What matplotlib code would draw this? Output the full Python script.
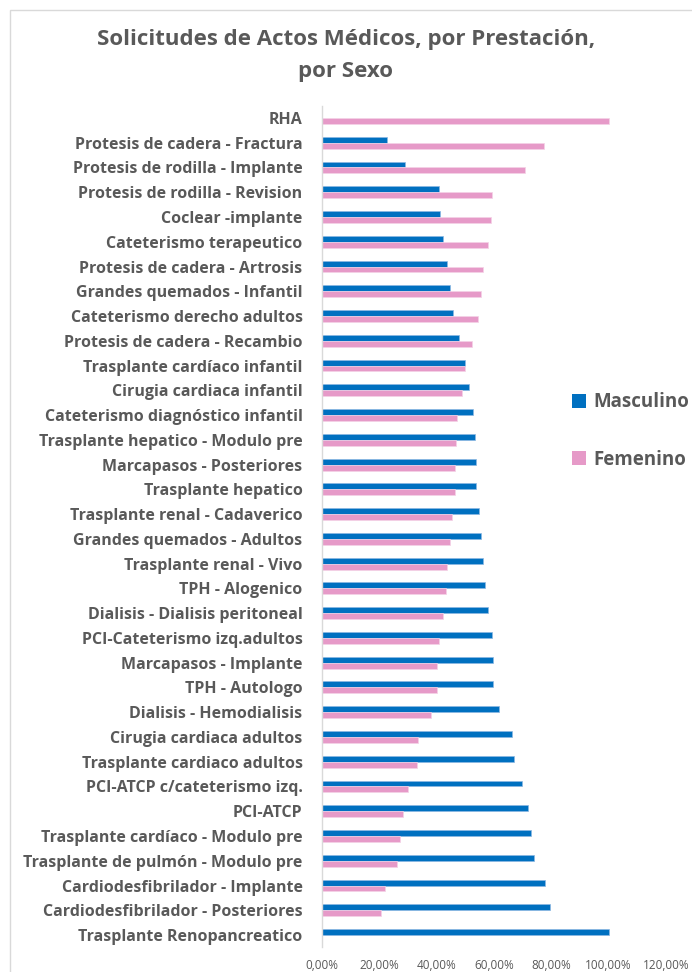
import matplotlib.pyplot as plt
from matplotlib.patches import Patch, Rectangle
from matplotlib.ticker import FuncFormatter

prestaciones = [
    'RHA',
    'Protesis de cadera - Fractura',
    'Protesis de rodilla - Implante',
    'Protesis de rodilla - Revision',
    'Coclear -implante',
    'Cateterismo terapeutico',
    'Protesis de cadera - Artrosis',
    'Grandes quemados - Infantil',
    'Cateterismo derecho adultos',
    'Protesis de cadera - Recambio',
    'Trasplante cardíaco infantil',
    'Cirugia cardiaca infantil',
    'Cateterismo diagnóstico infantil',
    'Trasplante hepatico - Modulo pre',
    'Marcapasos - Posteriores',
    'Trasplante hepatico',
    'Trasplante renal - Cadaverico',
    'Grandes quemados - Adultos',
    'Trasplante renal - Vivo',
    'TPH - Alogenico',
    'Dialisis - Dialisis peritoneal',
    'PCI-Cateterismo izq.adultos',
    'Marcapasos - Implante',
    'TPH - Autologo',
    'Dialisis - Hemodialisis',
    'Cirugia cardiaca adultos',
    'Trasplante cardiaco adultos',
    'PCI-ATCP c/cateterismo izq.',
    'PCI-ATCP',
    'Trasplante cardíaco - Modulo pre',
    'Trasplante de pulmón - Modulo pre',
    'Cardiodesfibrilador - Implante',
    'Cardiodesfibrilador - Posteriores',
    'Trasplante Renopancreatico',
]

masculino = [0.0, 22.6, 29.1, 40.8, 41.2, 42.2, 43.7, 44.7, 45.7, 47.8,
             50.0, 51.3, 52.8, 53.3, 53.7, 53.7, 54.8, 55.4, 56.3, 56.8,
             57.8, 59.3, 59.8, 59.8, 61.9, 66.4, 66.9, 69.9, 71.9, 72.8,
             73.9, 77.9, 79.4, 100.0]
femenino = [100.0, 77.4, 70.9, 59.2, 58.8, 57.8, 56.3, 55.3, 54.3, 52.2,
            50.0, 48.7, 47.2, 46.7, 46.3, 46.3, 45.2, 44.6, 43.7, 43.2,
            42.2, 40.7, 40.2, 40.2, 38.1, 33.6, 33.1, 30.1, 28.1, 27.2,
            26.1, 22.1, 20.6, 0.0]

azul = '#0070C0'
rosa = '#E69AC8'
gris = '#595959'
fuente = 'Open Sans'

fig = plt.figure(figsize=(6.92, 9.72), dpi=100)
ax = fig.add_axes([0.4653, 0.0253, 0.4971, 0.8661])

y = list(range(len(prestaciones)))
h = 0.24
ax.barh([i - h / 2 for i in y], [v / 100 for v in masculino], height=h,
        color=azul, edgecolor='#8DB8E2', linewidth=0.5, label='Masculino')
ax.barh([i + h / 2 for i in y], [v / 100 for v in femenino], height=h,
        color=rosa, edgecolor='#F4D2E6', linewidth=0.5, label='Femenino')

ax.set_ylim(len(prestaciones) - 0.5, -0.5)
ax.set_xlim(0, 1.2)
ax.set_xticks([0, 0.2, 0.4, 0.6, 0.8, 1.0, 1.2])
ax.xaxis.set_major_formatter(FuncFormatter(lambda v, p: f'{v * 100:.2f}%'.replace('.', ',')))
ax.set_yticks(y)
ax.set_yticklabels(prestaciones, fontsize=11.5, fontweight='bold', color=gris, family=fuente)
ax.tick_params(axis='y', length=0, pad=14)
ax.tick_params(axis='x', length=0, pad=8, labelsize=8.5, labelcolor=gris)
for lbl in ax.get_xticklabels():
    lbl.set_family(fuente)

for s in ['top', 'right', 'bottom']:
    ax.spines[s].set_visible(False)
ax.spines['left'].set_color('#D9D9D9')
ax.spines['left'].set_linewidth(1)

fig.text(0.5, 1 - 40 / 972, 'Solicitudes de Actos Médicos, por Prestación,', ha='center', va='center',
         fontsize=16, fontweight='bold', color=gris, family=fuente)
fig.text(0.5, 1 - 72 / 972, 'por Sexo', ha='center', va='center',
         fontsize=16, fontweight='bold', color=gris, family=fuente)

handles = [Patch(facecolor=azul, label='Masculino'), Patch(facecolor=rosa, label='Femenino')]
fig.legend(handles=handles, loc='upper left', bbox_to_anchor=(563 / 692, 1 - 383 / 972),
           frameon=False, handlelength=0.75, handleheight=0.75, handletextpad=0.35,
           labelspacing=2.0, borderpad=0, prop={'family': fuente, 'weight': 'bold', 'size': 13.5},
           labelcolor=gris)

# marco del gráfico
fig.patches.append(Rectangle((10 / 692, -0.1), 1.2, 1.1 - 10 / 972, transform=fig.transFigure,
                             fill=False, edgecolor='#D9D9D9', linewidth=1))

fig.savefig('out.png', dpi=100, facecolor='white')
